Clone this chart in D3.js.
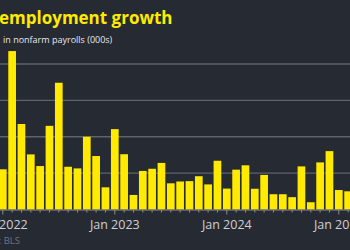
<!DOCTYPE html>
<html><head><meta charset="utf-8">
<script src="https://cdn.jsdelivr.net/npm/d3@7/dist/d3.min.js"></script>
<style>
html,body{margin:0;padding:0;background:#262a33;overflow:hidden}
svg{display:block}
</style></head>
<body>
<svg id="c" width="350" height="250"></svg>
<script>
const months = ["2022-01","2022-02","2022-03","2022-04","2022-05","2022-06","2022-07","2022-08","2022-09","2022-10","2022-11","2022-12",
"2023-01","2023-02","2023-03","2023-04","2023-05","2023-06","2023-07","2023-08","2023-09","2023-10","2023-11","2023-12",
"2024-01","2024-02","2024-03","2024-04","2024-05","2024-06","2024-07","2024-08","2024-09","2024-10","2024-11","2024-12",
"2025-01","2025-02"];
const payrolls = [221,871,470,303,239,460,697,235,226,400,294,122,
442,304,80,212,224,256,144,154,156,183,138,268,
115,219,243,114,190,84,84,68,237,40,259,321,
107,100];
const yTicks = [200,400,600,800];
const title = "employment growth";
const subtitle = "in nonfarm payrolls (000s)";
const source = "Source: BLS";

const svg = d3.select("#c");
const W = 350, H = 250;
svg.append("rect").attr("width",W).attr("height",H).attr("fill","#262a33");

const step = 9.333;
const x0 = 2.8 - step/2;
const x = d3.scaleBand().domain(months).range([x0, x0 + step*months.length]).paddingInner(0.175).paddingOuter(0.0875);
const y = d3.scaleLinear().domain([0,800]).range([209.5,64]);

// gridlines
svg.append("g").selectAll("line").data(yTicks).join("line")
  .attr("x1",0).attr("x2",W)
  .attr("y1",d=>y(d)).attr("y2",d=>y(d))
  .attr("stroke","#5e626a").attr("stroke-width",1.4);

// bars
svg.append("g").selectAll("rect").data(months).join("rect")
  .attr("x",d=>x(d)).attr("width",x.bandwidth())
  .attr("y",(d,i)=>y(payrolls[i]))
  .attr("height",(d,i)=>y(0)-y(payrolls[i]))
  .attr("fill","#ffea00");

// axis
const axis = d3.axisBottom(x)
  .tickSizeOuter(0)
  .tickSize(3)
  .tickFormat(d => d.endsWith("-01") ? "Jan " + d.slice(0,4) : "");
const ag = svg.append("g").attr("transform",`translate(0,${y(0)})`).call(axis);
ag.select(".domain").attr("stroke","#8a8e96").attr("stroke-width",1);
ag.selectAll(".tick line").attr("stroke","#8a8e96")
  .attr("y2",d=>d.endsWith("-01") ? 5 : 3);
ag.selectAll(".tick text")
  .attr("fill","#cfd1d5")
  .attr("font-family","Open Sans, sans-serif")
  .attr("font-size",12.5)
  .attr("dy",0).attr("y",19.5);

// title
svg.append("text").attr("x",-1).attr("y",24)
  .attr("fill","#ffea00").attr("font-family","Open Sans, sans-serif")
  .attr("font-weight",700).attr("font-size",17).text(title);
svg.append("text").attr("x",3).attr("y",43)
  .attr("fill","#e8e9eb").attr("font-family","Open Sans, sans-serif")
  .attr("font-size",9).text(subtitle);
svg.append("text").attr("x",20).attr("y",244).attr("text-anchor","end")
  .attr("fill","#6f747c").attr("font-family","Open Sans, sans-serif")
  .attr("font-size",9.5).text(source);
</script>
</body></html>
